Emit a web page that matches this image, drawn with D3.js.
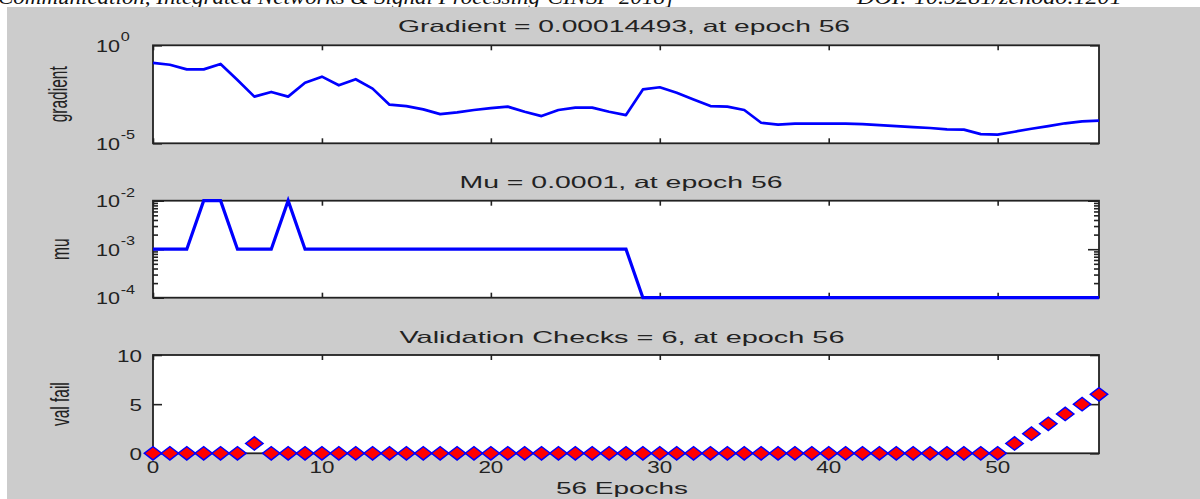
<!DOCTYPE html>
<html>
<head>
<meta charset="utf-8">
<script src="https://cdn.jsdelivr.net/npm/d3@7"></script>
<style>
  body { margin: 0; background: #fff; }
  text { font-family: "Liberation Sans", Arial, sans-serif; fill: #222; }
</style>
</head>
<body>
<svg id="chart"></svg>
<script>
// ---- data ----
var epochs = [0,1,2,3,4,5,6,7,8,9,10,11,12,13,14,15,16,17,18,19,20,21,22,23,24,25,26,27,28,
              29,30,31,32,33,34,35,36,37,38,39,40,41,42,43,44,45,46,47,48,49,50,51,52,53,54,55,56];

var gradientValues = [0.126, 0.102, 0.0589, 0.0589, 0.112, 0.0170, 0.00240, 0.00417, 0.00240, 0.0123,
                      0.0251, 0.00912, 0.0186, 0.00617, 0.000933, 0.000794, 0.000537, 0.000309, 0.000380, 0.000501,
                      0.000617, 0.000741, 0.000407, 0.000245, 0.000501, 0.000661, 0.000661, 0.000407, 0.000275, 0.00562,
                      0.00724, 0.00380, 0.00174, 0.000794, 0.000741, 0.000501, 0.000112, 0.0000891, 0.000100, 0.000100,
                      0.000100, 0.000100, 0.0000955, 0.0000851, 0.0000759, 0.0000676, 0.0000603, 0.0000513, 0.0000501, 0.0000295,
                      0.0000275, 0.0000389, 0.0000550, 0.0000759, 0.000105, 0.000132, 0.00014493];

var muValues = [0.001, 0.001, 0.001, 0.01, 0.01, 0.001, 0.001, 0.001, 0.01, 0.001,
                0.001, 0.001, 0.001, 0.001, 0.001, 0.001, 0.001, 0.001, 0.001, 0.001,
                0.001, 0.001, 0.001, 0.001, 0.001, 0.001, 0.001, 0.001, 0.001, 0.0001,
                0.0001, 0.0001, 0.0001, 0.0001, 0.0001, 0.0001, 0.0001, 0.0001, 0.0001, 0.0001,
                0.0001, 0.0001, 0.0001, 0.0001, 0.0001, 0.0001, 0.0001, 0.0001, 0.0001, 0.0001,
                0.0001, 0.0001, 0.0001, 0.0001, 0.0001, 0.0001, 0.0001];

var valFailValues = [0,0,0,0,0,0,1,0,0,0, 0,0,0,0,0,0,0,0,0,0,
                     0,0,0,0,0,0,0,0,0,0, 0,0,0,0,0,0,0,0,0,0,
                     0,0,0,0,0,0,0,0,0,0, 0,1,2,3,4,5,6];

var xTicks = [0, 10, 20, 30, 40, 50];
var gradTicks = [1e-5, 1];
var muTicks = [1e-4, 1e-3, 1e-2];
var valTicks = [0, 5, 10];

var titles = ["Gradient = 0.00014493, at epoch 56", "Mu = 0.0001, at epoch 56", "Validation Checks = 6, at epoch 56"];
var yLabels = ["gradient", "mu", "val fail"];
var xLabel = "56 Epochs";
var headerLeft = "Communication, Integrated Networks & Signal Processing-CINSP-2018]";
var headerRight = "DOI: 10.5281/zenodo.1201";

// ---- layout ----
var W = 1200, H = 499;
var x0 = 153, x1 = 1099;
var lineColor = "#0000ff";
var axisColor = "#222";

var svg = d3.select("#chart").attr("width", W).attr("height", H).style("display", "block");

// paper strip above the figure (cropped in the source, only the lower half shows)
svg.append("rect").attr("width", W).attr("height", H).attr("fill", "#fff");
svg.append("text").attr("x", -2).attr("y", 4)
    .style("font-family", "'Liberation Serif', serif").style("font-style", "italic").style("font-size", "21px").style("fill", "#111")
    .attr("textLength", 676).attr("lengthAdjust", "spacingAndGlyphs")
    .text(headerLeft);
svg.append("text").attr("x", 857).attr("y", 4)
    .style("font-family", "'Liberation Serif', serif").style("font-style", "italic").style("font-size", "21px").style("fill", "#111")
    .attr("transform", "translate(857,0) scale(1.15,1) translate(-857,0)")
    .text(headerRight);

// figure background
svg.append("rect").attr("x", 7).attr("y", 7).attr("width", W - 7).attr("height", H - 7).attr("fill", "#cccccc");

var x = d3.scaleLinear().domain([0, 56]).range([x0, x1]);

function stretched(parent, px, py, str, size, sx, anchor, rot) {
    return parent.append("text")
        .attr("transform", "translate(" + px + "," + py + ") scale(" + sx + ",1)" + (rot ? " rotate(" + rot + ")" : ""))
        .attr("text-anchor", anchor)
        .style("font-size", size + "px")
        .text(str);
}

// draw the white box, inward ticks on all four sides
function frame(top, bottom, y, major, minor, majorLen) {
    var g = svg.append("g");
    g.append("rect").attr("x", x0).attr("y", top).attr("width", x1 - x0).attr("height", bottom - top)
        .attr("fill", "#fff");

    g.append("g").attr("transform", "translate(0," + bottom + ")")
        .call(d3.axisBottom(x).tickValues(xTicks).tickSizeInner(-5).tickSizeOuter(0).tickFormat(""));
    g.append("g").attr("transform", "translate(0," + top + ")")
        .call(d3.axisTop(x).tickValues(xTicks).tickSizeInner(-5).tickSizeOuter(0).tickFormat(""));

    g.append("g").attr("transform", "translate(" + x0 + ",0)")
        .call(d3.axisLeft(y).tickValues(major).tickSizeInner(-majorLen).tickSizeOuter(0).tickFormat(""));
    g.append("g").attr("transform", "translate(" + x1 + ",0)")
        .call(d3.axisRight(y).tickValues(major).tickSizeInner(-majorLen).tickSizeOuter(0).tickFormat(""));

    if (minor) {
        g.append("g").attr("transform", "translate(" + x0 + ",0)")
            .call(d3.axisLeft(y).tickValues(minor).tickSizeInner(-5).tickSizeOuter(0).tickFormat(""));
        g.append("g").attr("transform", "translate(" + x1 + ",0)")
            .call(d3.axisRight(y).tickValues(minor).tickSizeInner(-5).tickSizeOuter(0).tickFormat(""));
    }

    g.selectAll(".domain").remove();
    g.selectAll(".tick line").attr("stroke", axisColor).attr("stroke-width", 1.6);

    g.append("rect").attr("x", x0).attr("y", top).attr("width", x1 - x0).attr("height", bottom - top)
        .attr("fill", "none").attr("stroke", axisColor).attr("stroke-width", 1.8);
    return g;
}

// log tick labels "10^n"
function logLabels(g, y, values) {
    values.forEach(function(v) {
        var e = Math.round(Math.log10(v));
        var t = stretched(g, 96, y(v) + 6.5, "10", 16, 1.35, "start");
        t.append("tspan").attr("dy", -10.5).attr("dx", 0.5).style("font-size", "12px").text(String(e));
    });
}

// ---- panel 1: gradient ----
var gTop = 45.3, gBot = 143.3;
var yGrad = d3.scaleLog().domain([1e-5, 1]).range([gBot, gTop]);
var g1 = frame(gTop, gBot, yGrad, gradTicks, null, 9);
logLabels(g1, yGrad, gradTicks);
g1.append("path")
    .attr("d", d3.line().x(function(d, i) { return x(epochs[i]); }).y(function(d) { return yGrad(d); })(gradientValues))
    .attr("fill", "none").attr("stroke", lineColor).attr("stroke-width", 2.7).attr("stroke-linejoin", "round");
stretched(svg, 624, 31.5, titles[0], 16.5, 1, "middle").attr("textLength", 452).attr("lengthAdjust", "spacingAndGlyphs");
stretched(svg, 67, (gTop + gBot) / 2, yLabels[0], 15.5, 1.7, "middle", -90);

// ---- panel 2: mu ----
var mTop = 200.7, mBot = 297.7;
var yMu = d3.scaleLog().domain([1e-4, 1e-2]).range([mBot, mTop]);
var muMinor = yMu.ticks().filter(function(v) { return muTicks.indexOf(v) < 0; });
var g2 = frame(mTop, mBot, yMu, muTicks, muMinor, 11);
logLabels(g2, yMu, muTicks);
g2.append("path")
    .attr("d", d3.line().x(function(d, i) { return x(epochs[i]); }).y(function(d) { return yMu(d); })(muValues))
    .attr("fill", "none").attr("stroke", lineColor).attr("stroke-width", 3.2);
stretched(svg, 621, 187.5, titles[1], 16.5, 1, "middle").attr("textLength", 323).attr("lengthAdjust", "spacingAndGlyphs");
stretched(svg, 69, (mTop + mBot) / 2, yLabels[1], 15.5, 1.7, "middle", -90);

// ---- panel 3: validation checks ----
var vTop = 355, vBot = 453.3;
var yVal = d3.scaleLinear().domain([0, 10]).range([vBot, vTop]);
var g3 = frame(vTop, vBot, yVal, valTicks, null, 9);
valTicks.forEach(function(v) {
    stretched(g3, 142, yVal(v) + 6.5, String(v), 16, 1.4, "end");
});
xTicks.forEach(function(v) {
    stretched(g3, x(v), 473.3, String(v), 16, 1.4, "middle");
});
g3.selectAll("path.mark").data(valFailValues).join("path")
    .attr("class", "mark")
    .attr("d", d3.symbol(d3.symbolSquare, 90)())
    .attr("transform", function(d, i) { return "translate(" + x(epochs[i]) + "," + yVal(d) + ") scale(1.3,1) rotate(45)"; })
    .attr("fill", "#ff0000").attr("stroke", lineColor).attr("stroke-width", 1.3);
stretched(svg, 622, 342.5, titles[2], 16.5, 1, "middle").attr("textLength", 445).attr("lengthAdjust", "spacingAndGlyphs");
stretched(svg, 69, (vTop + vBot) / 2, yLabels[2], 15.5, 1.7, "middle", -90);
stretched(svg, 622, 494, xLabel, 16.5, 1, "middle").attr("textLength", 132).attr("lengthAdjust", "spacingAndGlyphs");
</script>
</body>
</html>
